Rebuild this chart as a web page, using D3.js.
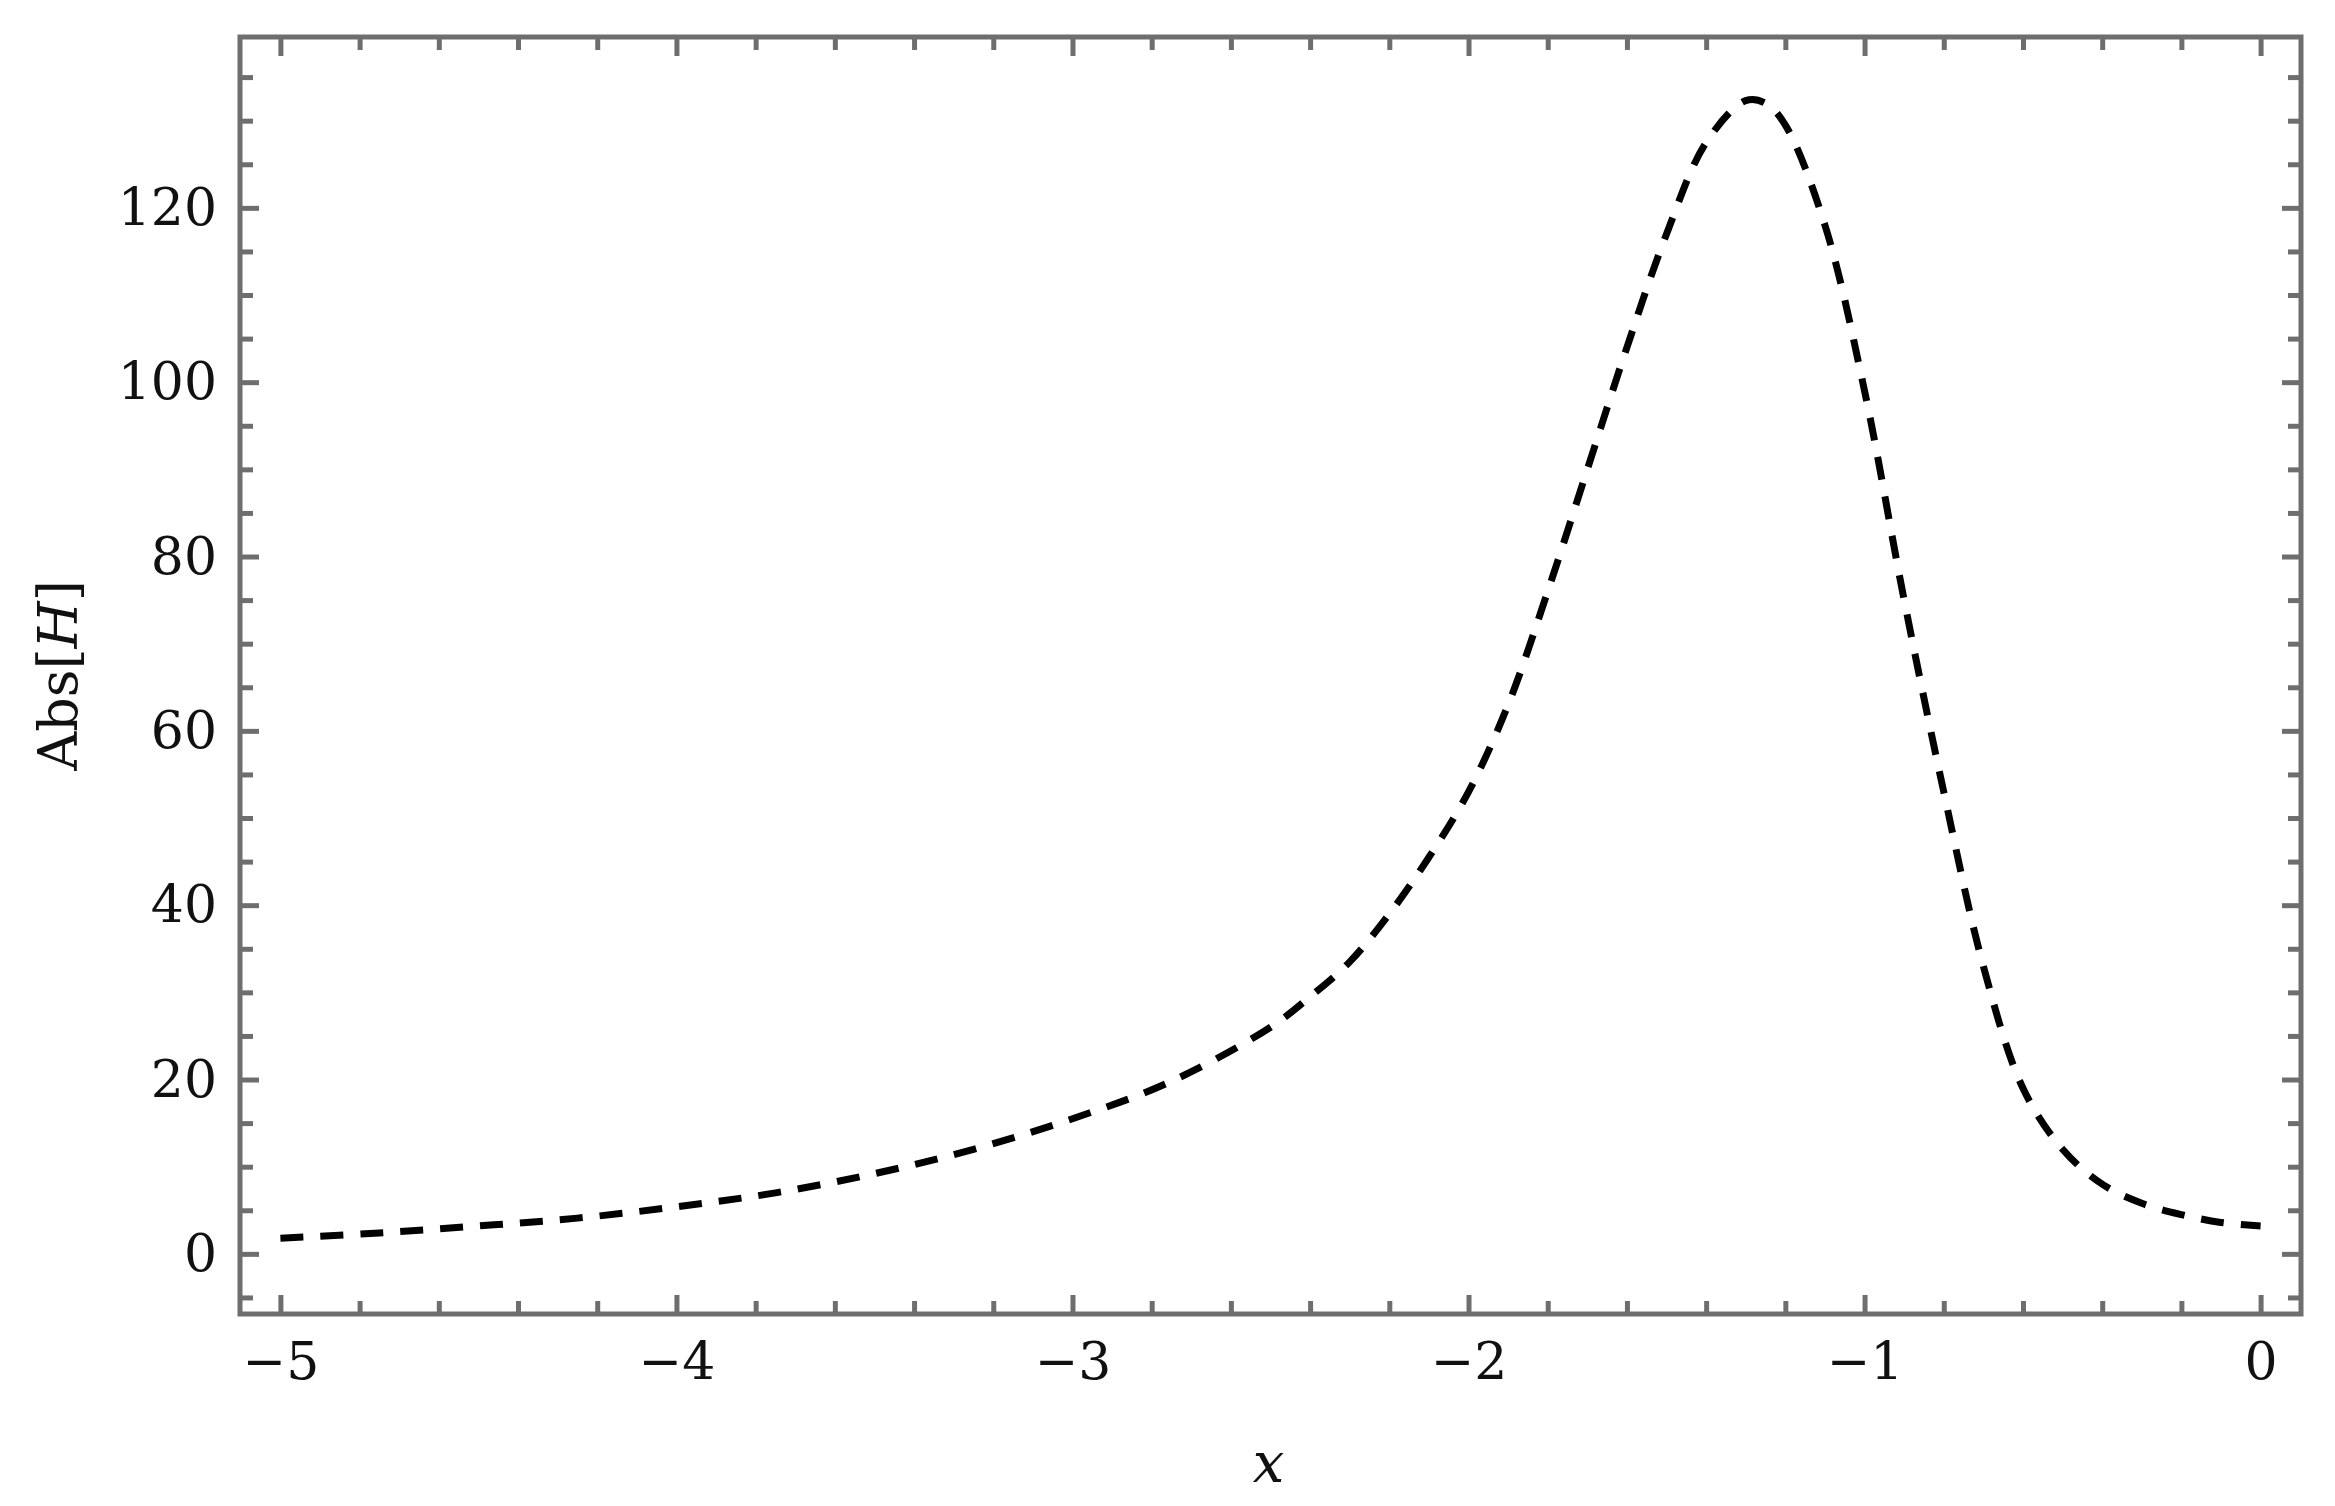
<!DOCTYPE html>
<html>
<head>
<meta charset="utf-8">
<script src="https://cdn.jsdelivr.net/npm/d3@7"></script>
<style>
  html, body { margin: 0; padding: 0; background: #fff; }
  svg { display: block; }
  .tick text { font-family: "DejaVu Serif", serif; fill: #111; }
</style>
</head>
<body>
<div id="chart"></div>
<script>
// values
var xVals = [-5, -4.75, -4.5, -4.25, -4, -3.75, -3.5, -3.25, -3, -2.75, -2.5, -2.4, -2.3, -2.2, -2.1,
             -2, -1.9, -1.8, -1.7, -1.6, -1.5, -1.4, -1.3, -1.25, -1.2, -1.1, -1, -0.9, -0.8,
             -0.7, -0.6, -0.5, -0.4, -0.3, -0.2, -0.1, 0];
var absH  = [1.8, 2.4, 3.2, 4.1, 5.4, 7, 9.2, 12, 15.5, 19.8, 26, 29.5, 33.5, 39, 45.5,
             53, 63, 76, 90, 104, 117, 127.5, 132.3, 132, 129.5, 118, 99, 75, 53,
             33, 19, 12, 8, 5.8, 4.5, 3.6, 3.2];
var xTicks = [-5, -4, -3, -2, -1, 0];
var yTicks = [0, 20, 40, 60, 80, 100, 120];

var W = 2335, H = 1506;
var margin = { top: 37, right: 34, bottom: 192, left: 240 },
    width  = W - margin.left - margin.right,
    height = H - margin.top - margin.bottom;

var svg = d3.select('#chart').append('svg')
    .attr('width', W)
    .attr('height', H);

var g = svg.append('g')
    .attr('transform', 'translate(' + margin.left + ',' + margin.top + ')');

var x = d3.scaleLinear().domain([-5.102, 0.102]).range([0, width]);
var y = d3.scaleLinear().domain([-6.9, 139.6]).range([height, 0]);

// minor tick positions (skip the major ones)
var xMinor = d3.range(-25, 1).map(d => d / 5).filter(d => Math.abs(d - Math.round(d)) > 1e-6);
var yMinor = d3.range(-5, 140, 5).filter(d => d % 20 !== 0);

var frameColor = '#6e6e6e';
var majorLen = -19, minorLen = -13;

function styleAxis(sel) {
    sel.select('.domain').remove();
    sel.selectAll('.tick line')
        .attr('stroke', frameColor)
        .attr('stroke-width', 5);
    sel.selectAll('.tick text').attr('font-size', 52);
}

// bottom
g.append('g').attr('transform', 'translate(0,' + height + ')')
    .call(d3.axisBottom(x).tickValues(xMinor).tickSize(minorLen).tickFormat(''))
    .call(styleAxis);
g.append('g').attr('transform', 'translate(0,' + height + ')')
    .call(d3.axisBottom(x).tickValues(xTicks).tickSize(majorLen).tickPadding(28).tickFormat(d3.format('d')))
    .call(styleAxis);
// top
g.append('g')
    .call(d3.axisTop(x).tickValues(xMinor).tickSize(minorLen).tickFormat(''))
    .call(styleAxis);
g.append('g')
    .call(d3.axisTop(x).tickValues(xTicks).tickSize(majorLen).tickFormat(''))
    .call(styleAxis);
// left
g.append('g')
    .call(d3.axisLeft(y).tickValues(yMinor).tickSize(minorLen).tickFormat(''))
    .call(styleAxis);
g.append('g')
    .call(d3.axisLeft(y).tickValues(yTicks).tickSize(majorLen).tickPadding(23).tickFormat(d3.format('d')))
    .call(styleAxis);
// right
g.append('g').attr('transform', 'translate(' + width + ',0)')
    .call(d3.axisRight(y).tickValues(yMinor).tickSize(minorLen).tickFormat(''))
    .call(styleAxis);
g.append('g').attr('transform', 'translate(' + width + ',0)')
    .call(d3.axisRight(y).tickValues(yTicks).tickSize(majorLen).tickFormat(''))
    .call(styleAxis);

g.selectAll('.tick text').attr('fill', '#111');

// clip for the curve
svg.append('clipPath').attr('id', 'plotClip')
    .append('rect').attr('width', width).attr('height', height);

var line = d3.line()
    .x((d, i) => x(xVals[i]))
    .y(d => y(d))
    .curve(d3.curveCatmullRom.alpha(0.5));

g.append('path')
    .datum(absH)
    .attr('clip-path', 'url(#plotClip)')
    .attr('fill', 'none')
    .attr('stroke', '#000')
    .attr('stroke-width', 7)
    .attr('stroke-dasharray', '23,17')
    .attr('d', line);

// frame
g.append('rect')
    .attr('width', width)
    .attr('height', height)
    .attr('fill', 'none')
    .attr('stroke', frameColor)
    .attr('stroke-width', 5);

// axis labels
svg.append('text')
    .attr('x', margin.left + width / 2 - 2)
    .attr('y', 1482)
    .attr('text-anchor', 'middle')
    .attr('font-family', 'DejaVu Serif, serif')
    .attr('font-style', 'italic')
    .attr('font-size', 56)
    .attr('fill', '#111')
    .text('x');

var yLab = svg.append('text')
    .attr('transform', 'translate(77,' + (margin.top + height / 2) + ') rotate(-90)')
    .attr('text-anchor', 'middle')
    .attr('font-family', 'DejaVu Serif, serif')
    .attr('font-size', 54)
    .attr('fill', '#111');
yLab.append('tspan').text('Abs[');
yLab.append('tspan').attr('font-style', 'italic').text('H');
yLab.append('tspan').text(']');
</script>
</body>
</html>
